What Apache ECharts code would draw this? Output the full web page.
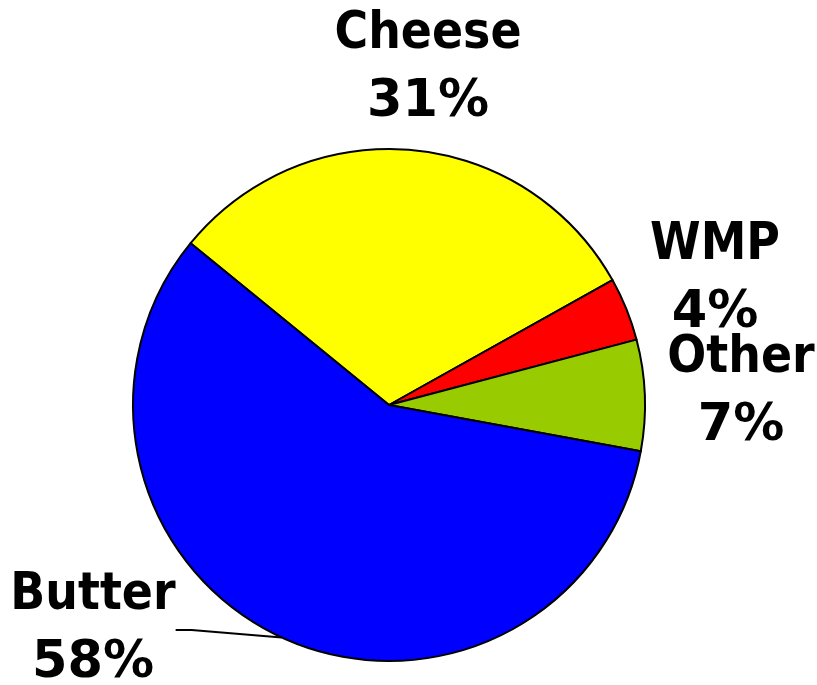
<!DOCTYPE html>
<html><head><meta charset="utf-8">
<script src="https://cdn.jsdelivr.net/npm/echarts@6/dist/echarts.min.js"></script>
<style>html,body{margin:0;padding:0;background:#fff}#c{width:817px;height:685px}</style>
</head><body><div id="c"></div>
<script>
// Data
const categories = ['Cheese', 'WMP', 'Other', 'Butter'];
const values = [31, 4, 7, 58];
const colors = ['#ffff00', '#ff0000', '#99cc00', '#0000ff'];

// Label anchor positions (layout only)
const labelAnchors = [[428, 69], [715, 280], [741, 393], [93, 630]];

const chart = echarts.init(document.getElementById('c'), null, {renderer: 'canvas'});
chart.setOption({
  backgroundColor: '#ffffff',
  animation: false,
  series: [{
    type: 'pie',
    center: [389, 405],
    radius: [0, 256],
    startAngle: 140.8,
    clockwise: true,
    data: categories.map((name, i) => ({
      name: name,
      value: values[i],
      itemStyle: {color: colors[i]},
      labelLine: {show: name === 'Butter'}
    })),
    itemStyle: {borderColor: '#000', borderWidth: 2},
    emphasis: {disabled: true},
    label: {
      show: true,
      position: 'outside',
      formatter: p => '{n|' + p.name + '}\n{p|' + Math.round(p.percent) + '%}',
      color: '#000',
      align: 'center',
      overflow: 'none',
      rich: {
        n: {fontFamily: '"DejaVu Sans Condensed", "DejaVu Sans"', fontWeight: 'bold', fontSize: 51, lineHeight: 68, color: '#000'},
        p: {fontFamily: '"DejaVu Sans"', fontWeight: 'bold', fontSize: 51, lineHeight: 68, color: '#000'}
      }
    },
    labelLine: {
      show: false,
      length: 8,
      length2: 16,
      lineStyle: {color: '#000', width: 2}
    },
    labelLayout: function (params) {
      const a = labelAnchors[params.dataIndex];
      return {x: a[0], y: a[1], align: 'center', verticalAlign: 'middle'};
    }
  }]
});
</script></body></html>
